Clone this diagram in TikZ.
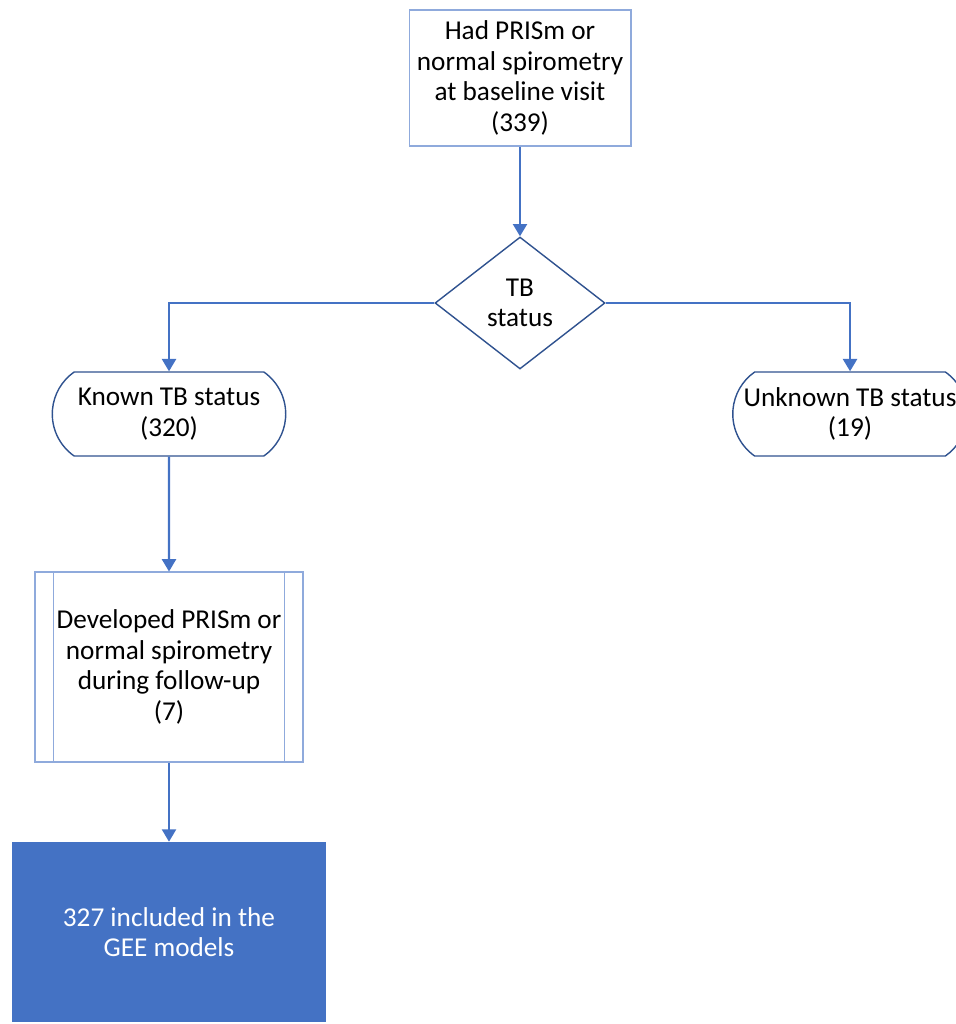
\documentclass[tikz,border=0pt]{standalone}
\usepackage{fontspec}
\setmainfont{Carlito}
\usetikzlibrary{shapes.geometric,shapes.misc,arrows.meta}
\definecolor{flowblue}{HTML}{4472C4}
\definecolor{lineblue}{HTML}{8FAADC}
\definecolor{darkblue}{HTML}{2F528F}
\tikzset{
  every node/.style={font=\fontsize{15.5}{17.3}\selectfont, align=center},
  procbox/.style={rectangle, draw=lineblue, line width=0.6pt},
  decbox/.style={diamond, draw=darkblue, line width=0.8pt, inner sep=0pt},
  termbox/.style={rounded rectangle, rounded rectangle arc length=110, inner xsep=1pt,
    draw=darkblue, line width=0.8pt, minimum height=1.68cm},
  flowarrow/.style={draw=flowblue, line width=1.2pt, -{Triangle[width=8pt,length=7pt]}}
}

\begin{document}
\begin{tikzpicture}[x=0.02cm, y=-0.02cm]
\useasboundingbox (0,0) rectangle (956,1024);
\node[procbox, minimum width=4.44cm, minimum height=2.72cm] (baseline) at (520,78)
  {Had PRISm or\\normal spirometry\\at baseline visit\\(339)};
\node[decbox, minimum width=3.4cm, minimum height=2.64cm] (tbstatus) at (520,303) {TB\\status};
\node[termbox, minimum width=4.74cm] (known) at (169,414) {Known TB status\\(320)};
\node[termbox, minimum width=4.76cm] (unknown) at (850,414) {Unknown TB status\\(19)};
\node[procbox, minimum width=5.36cm, minimum height=3.8cm] (followup) at (169,667)
  {Developed PRISm or\\normal spirometry\\during follow-up\\(7)};
\draw[lineblue, line width=0.6pt] ([xshift=0.38cm]followup.north west) -- ([xshift=0.38cm]followup.south west)
  ([xshift=-0.38cm]followup.north east) -- ([xshift=-0.38cm]followup.south east);
\node[rectangle, fill=flowblue, text=white, minimum width=6.3cm, minimum height=3.6cm] (gee) at (169,932)
  {327 included in the\\GEE models};
% connectors
\draw[flowarrow] (baseline) -- (tbstatus);
\draw[flowarrow] (tbstatus.west) -| (known);
\draw[flowarrow] (tbstatus.east) -| (unknown);
\draw[flowarrow] (known) -- (followup);
\draw[flowarrow] (followup) -- (gee);
\end{tikzpicture}
\end{document}
